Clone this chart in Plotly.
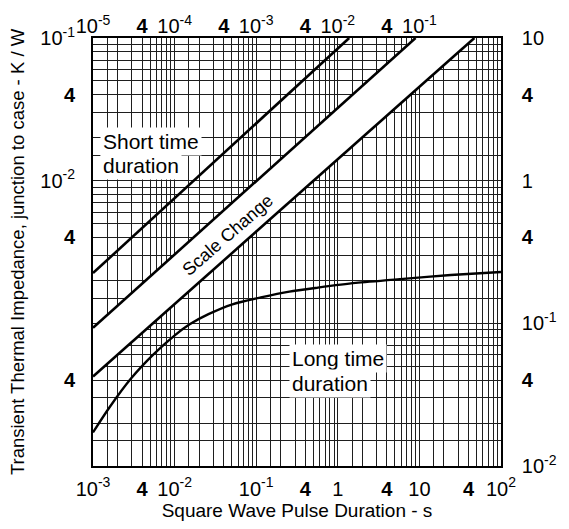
import plotly.graph_objects as go

# Long-time scale (bottom / right axes) and short-time scale (top / left axes)
T_LONG_RANGE = [-3, 2]      # log10 seconds
Z_LONG_RANGE = [-2, 1]      # log10 K/W
T_SHORT_RANGE = [-5, 0]
Z_SHORT_RANGE = [-4, -1]
SCALE = 100                 # long scale = short scale x 100 on both axes

# log grid mantissas per decade
grid_mantissas = [1, 1.5, 2, 3, 4, 5, 6, 7, 8, 9]

# tick labels
bottom_tickvals = [1e-3, 4e-3, 1e-2, 1e-1, 4e-1, 1, 4, 10, 40, 100]
bottom_ticktext = ["10<sup>-3</sup>", "<b>4</b>", "10<sup>-2</sup>", "10<sup>-1</sup>", "<b>4</b>",
                   "1", "<b>4</b>", "10", "<b>4</b>", "10<sup>2</sup>"]
top_tickvals = [1e-5, 4e-5, 1e-4, 4e-4, 1e-3, 4e-3, 1e-2, 4e-2, 1e-1]
top_ticktext = ["10<sup>-5</sup>", "<b>4</b>", "10<sup>-4</sup>", "<b>4</b>", "10<sup>-3</sup>",
                "<b>4</b>", "10<sup>-2</sup>", "<b>4</b>", "10<sup>-1</sup>"]
left_tickvals = [1e-1, 4e-2, 1e-2, 4e-3, 4e-4]
left_ticktext = ["10<sup>-1</sup>", "<b>4</b>", "10<sup>-2</sup>", "<b>4</b>", "<b>4</b>"]
right_tickvals = [10, 4, 1, 0.4, 0.1, 0.04, 0.01]
right_ticktext = ["10", "<b>4</b>", "1", "<b>4</b>", "10<sup>-1</sup>", "<b>4</b>", "10<sup>-2</sup>"]

# short-time impedance lines (top / left scale)
short_a_t = [1e-5, 1.38e-2]
short_a_z = [2.25e-3, 0.1]
short_b_t = [1e-5, 8.97e-2]
short_b_z = [9.3e-4, 0.1]

# long-time boundary line and impedance curve (bottom / right scale)
long_c_t = [1e-3, 47.2]
long_c_z = [0.0424, 10]
long_t = [1e-3, 1.58e-3, 2.92e-3, 5.55e-3, 1.03e-2, 1.53e-2, 2.6e-2, 5.12e-2, 0.114,
          0.255, 0.570, 1.66, 6.34, 24.2, 100]
long_z = [0.0172, 0.0256, 0.0410, 0.0608, 0.0834, 0.0985, 0.116, 0.136, 0.152,
          0.167, 0.178, 0.192, 0.205, 0.218, 0.229]


def grid_values(lo, hi):
    vals = []
    for k in range(lo, hi):
        for m in grid_mantissas:
            vals.append(m * 10 ** k)
    vals.append(10 ** hi)
    return vals


def labelled(grid, tickvals, ticktext):
    out = []
    for g in grid:
        txt = ""
        for v, t in zip(tickvals, ticktext):
            if abs(g - v) / v < 1e-9:
                txt = t
        out.append(txt)
    return out


x_grid = grid_values(*T_LONG_RANGE)
y_grid = grid_values(*Z_LONG_RANGE)

fig = go.Figure()

# white scale-change band between line B and line C
band_t = [short_b_t[0] * SCALE, short_b_t[1] * SCALE, long_c_t[1], long_c_t[0]]
band_z = [short_b_z[0] * SCALE, short_b_z[1] * SCALE, long_c_z[1], long_c_z[0]]
fig.add_trace(go.Scatter(x=band_t, y=band_z, mode="lines", fill="toself",
                         fillcolor="white", line=dict(width=0), hoverinfo="skip"))

line_style = dict(color="black", width=2.6)
fig.add_trace(go.Scatter(x=long_c_t, y=long_c_z, mode="lines", line=line_style))
fig.add_trace(go.Scatter(x=long_t, y=long_z, mode="lines",
                         line=dict(color="black", width=2.4, shape="spline", smoothing=0.7)))
fig.add_trace(go.Scatter(x=short_a_t, y=short_a_z, mode="lines", line=line_style,
                         xaxis="x2", yaxis="y2"))
fig.add_trace(go.Scatter(x=short_b_t, y=short_b_z, mode="lines", line=line_style,
                         xaxis="x2", yaxis="y2"))

FONT = "Liberation Sans, Arial, sans-serif"
grid_color = "#1e1e1e"
TICK_SIZE = 20


def label_row(text, x, y):
    # one line of an in-plot label, on its own white backing
    return dict(text=text, xref="paper", yref="paper", x=x, y=y,
                xanchor="left", yanchor="middle", align="left", showarrow=False,
                bgcolor="white", borderpad=2, font=dict(size=21))


fig.update_layout(
    width=569, height=529,
    margin=dict(l=93, r=46, t=36, b=55),
    plot_bgcolor="white", paper_bgcolor="white",
    showlegend=False,
    font=dict(family=FONT, size=19, color="black"),
    xaxis=dict(
        type="log", range=T_LONG_RANGE,
        tickmode="array", tickvals=x_grid, ticktext=labelled(x_grid, bottom_tickvals, bottom_ticktext),
        showgrid=True, gridcolor=grid_color, gridwidth=1,
        ticks="", showline=True, linecolor="black", linewidth=1.6, mirror=True,
        zeroline=False, tickfont=dict(size=TICK_SIZE), ticklabelstandoff=4,
        title=dict(text="Square Wave Pulse Duration - s", font=dict(size=19), standoff=4),
    ),
    yaxis=dict(
        type="log", range=Z_LONG_RANGE, side="right",
        tickmode="array", tickvals=y_grid, ticktext=labelled(y_grid, right_tickvals, right_ticktext),
        showgrid=True, gridcolor=grid_color, gridwidth=1,
        ticks="", showline=True, linecolor="black", linewidth=1.6, mirror=True,
        zeroline=False, tickfont=dict(size=TICK_SIZE), ticklabelstandoff=15,
    ),
    xaxis2=dict(
        type="log", range=T_SHORT_RANGE, overlaying="x", side="top",
        tickmode="array", tickvals=top_tickvals, ticktext=top_ticktext,
        showgrid=False, ticks="", showline=False, zeroline=False, tickfont=dict(size=TICK_SIZE),
    ),
    yaxis2=dict(
        type="log", range=Z_SHORT_RANGE, overlaying="y", side="left",
        tickmode="array", tickvals=left_tickvals, ticktext=left_ticktext,
        showgrid=False, ticks="", showline=False, zeroline=False, tickfont=dict(size=TICK_SIZE),
        ticklabelstandoff=17,
        title=dict(text="Transient Thermal Impedance, junction to case - K / W",
                   font=dict(size=18.5), standoff=10),
    ),
    annotations=[
        label_row("Short time", 0.016, 0.758),
        label_row("duration", 0.016, 0.701),
        label_row("Long time", 0.481, 0.251),
        label_row("duration", 0.481, 0.192),
        dict(text="Scale Change", xref="paper", yref="paper", x=0.330, y=0.54,
             xanchor="center", yanchor="middle", showarrow=False, textangle=-41,
             font=dict(size=18)),
    ],
)

fig.write_html("out.html")
